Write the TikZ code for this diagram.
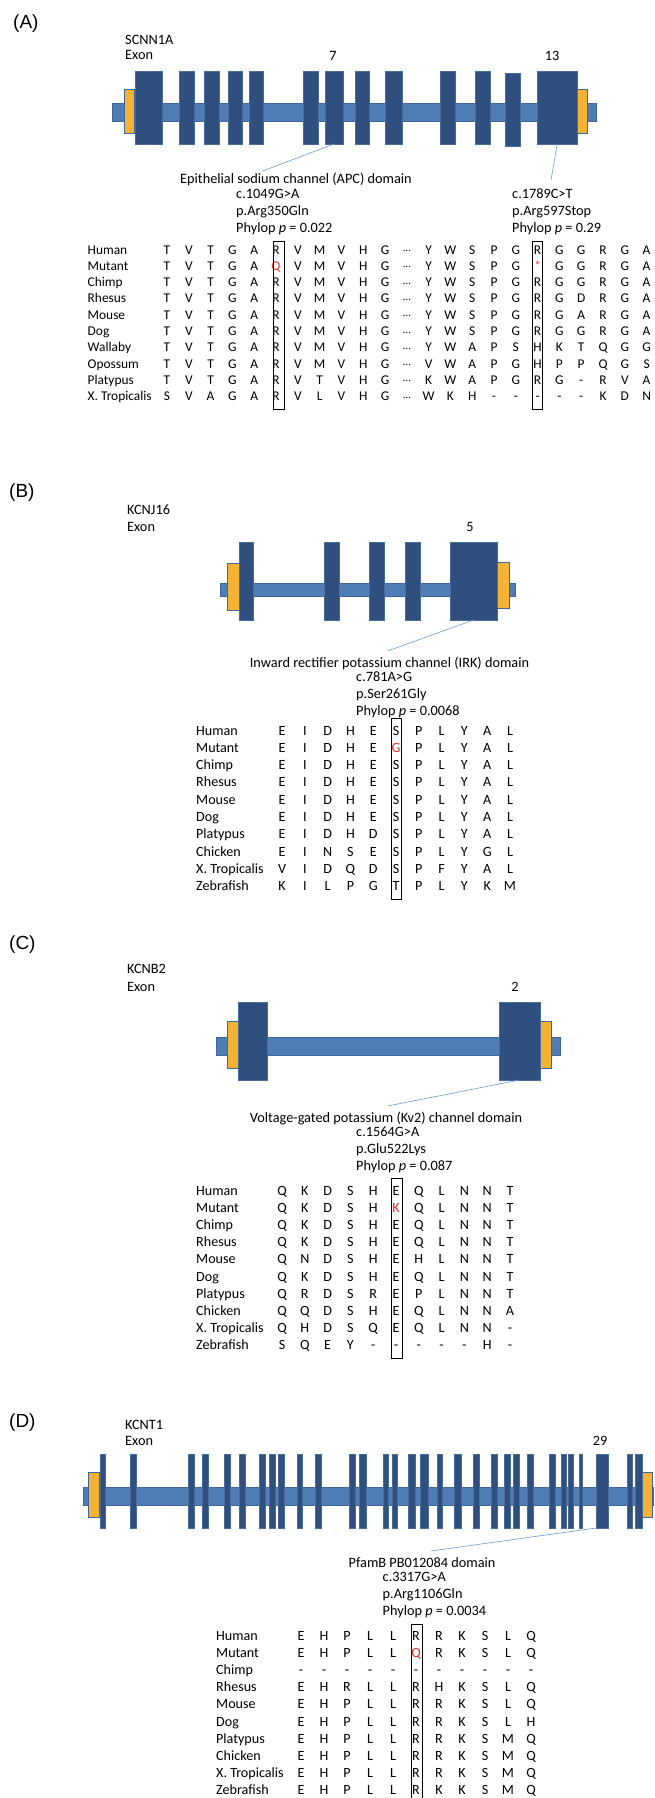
\documentclass[tikz,border=0pt]{standalone}
\usepackage{fontspec}
\setmainfont{Carlito}
\newfontfamily\panelfont{Liberation Sans}

\definecolor{exonblue}{HTML}{2F4F7E}
\definecolor{exonline}{HTML}{4A6C9B}
\definecolor{intronblue}{HTML}{4F7DB5}
\definecolor{intronline}{HTML}{3E6699}
\definecolor{utryellow}{HTML}{F5B335}
\definecolor{leaderblue}{HTML}{6F9AD0}
\definecolor{mutred}{HTML}{E8312A}

\newcommand\annotsize{\fontsize{14.3}{17}\selectfont}
\newcommand\alnsmall{\fontsize{13.4}{16}\selectfont}
\newcommand\alnlarge{\fontsize{14.1}{17}\selectfont}
\newcommand\gapdots{\raisebox{2.5pt}{\fontsize{11}{12}\selectfont …}}

\begin{document}
\begin{tikzpicture}[x=1pt,y=-1pt,
    exon/.style={draw=exonline,fill=exonblue,line width=0.7pt,
      inner sep=0pt,outer sep=0pt,anchor=north west},
    intron/.style={draw=intronline,fill=intronblue,line width=0.7pt},
    utr/.style={draw=intronline,fill=utryellow,line width=0.8pt},
    leader/.style={leaderblue,line width=0.6pt},
    hlbox/.style={draw=black,line width=0.9pt},
    panel/.style={font=\panelfont\fontsize{19}{22}\selectfont,inner sep=0pt,anchor=base west},
    annot/.style={font=\annotsize,inner sep=0pt,anchor=base west},
    domtext/.style={font=\annotsize,inner sep=0pt,anchor=base},
    species/.style={inner sep=0pt,anchor=base west},
    aa/.style={inner sep=0pt,anchor=base}]
\fill[white] (0,0) rectangle (654,1798);
\useasboundingbox (0,0) rectangle (654,1798);

% ---------------- (A) SCNN1A
\node[panel] (pA) at (13,29) {(A)};
\node[annot] (geneA) at (125,45) {SCNN1A};
\node[annot] (exonA) at (125,60) {Exon};
\draw[intron] (112,103) rectangle (596,121);
\draw[utr] (124,89) rectangle (134.5,133);
\draw[utr] (577,89) rectangle (587.5,133);
\foreach \l/\r/\t [count=\n] in {135/162/71,179/194/71,204/219/71,228/242/71,
    249/263/71,303/318/71,325/343/71,355/369/71,385/402/71,440/455/71,
    475/490/71,505/520/73,537.5/577/71}
  \node[exon,minimum width=\r-\l,minimum height=73] (a\n) at (\l,\t) {};
\node[domtext] (numA7) at (333,61) {7};
\node[domtext] (numA13) at (552,61) {13};
\coordinate (leadA7) at (262.5,171);
\coordinate (leadA13) at (551,180);
\draw[leader] (a7.south) -- (leadA7);
\draw[leader] (a13.south) -- (leadA13);
\node[domtext] (domA) at (296,184) {Epithelial sodium channel (APC) domain};
\node[annot] (cdnaA1) at (236,198) {c.1049G>A};
\node[annot] (protA1) at (236,215) {p.Arg350Gln};
\node[annot] (phyA1) at (236,232) {Phylop \textit{p} = 0.022};
\node[annot] (cdnaA2) at (512,198) {c.1789C>T};
\node[annot] (protA2) at (512,215) {p.Arg597Stop};
\node[annot] (phyA2) at (512,232) {Phylop \textit{p} = 0.29};
\foreach \sp/\seq [count=\r] in {
    Human/{T,V,T,G,A,R,V,M,V,H,G,\gapdots,Y,W,S,P,G,R,G,G,R,G,A},
    Mutant/{T,V,T,G,A,\textcolor{mutred}{Q},V,M,V,H,G,\gapdots,Y,W,S,P,G,\textcolor{mutred}{*},G,G,R,G,A},
    Chimp/{T,V,T,G,A,R,V,M,V,H,G,\gapdots,Y,W,S,P,G,R,G,G,R,G,A},
    Rhesus/{T,V,T,G,A,R,V,M,V,H,G,\gapdots,Y,W,S,P,G,R,G,D,R,G,A},
    Mouse/{T,V,T,G,A,R,V,M,V,H,G,\gapdots,Y,W,S,P,G,R,G,A,R,G,A},
    Dog/{T,V,T,G,A,R,V,M,V,H,G,\gapdots,Y,W,S,P,G,R,G,G,R,G,A},
    Wallaby/{T,V,T,G,A,R,V,M,V,H,G,\gapdots,Y,W,A,P,S,H,K,T,Q,G,G},
    Opossum/{T,V,T,G,A,R,V,M,V,H,G,\gapdots,V,W,A,P,G,H,P,P,Q,G,S},
    Platypus/{T,V,T,G,A,R,V,T,V,H,G,\gapdots,K,W,A,P,G,R,G,-,R,V,A},
    X. Tropicalis/{S,V,A,G,A,R,V,L,V,H,G,\gapdots,W,K,H,-,-,-,-,-,K,D,N}}{
  \node[species,font=\alnsmall] (spA\r) at (87.5,{254+16.3*(\r-1)}) {\sp};
  \foreach \ch [count=\c] in \seq
    \node[aa,font=\alnsmall] (alA-\r-\c) at ({167+21.8*(\c-1)},{254+16.3*(\r-1)}) {\ch};
}
\draw[hlbox] (273,241) rectangle (284,409);
\draw[hlbox] (532,241) rectangle (542.5,409);

% ---------------- (B) KCNJ16
\node[panel] (pB) at (9,497) {(B)};
\node[annot] (geneB) at (127,514) {KCNJ16};
\node[annot] (exonB) at (127,531) {Exon};
\draw[intron] (220,583) rectangle (515,596);
\draw[utr] (227.5,563) rectangle (239,610);
\draw[utr] (497,562) rectangle (509,608);
\foreach \l/\r [count=\n] in {239/253,324/339,369/384,405/420,450/497}
  \node[exon,minimum width=\r-\l,minimum height=78] (b\n) at (\l,542) {};
\node[domtext] (numB5) at (470,531) {5};
\coordinate (leadB5) at (387.5,651);
\draw[leader] (b5.south) -- (leadB5);
\node[domtext] (domB) at (389.5,667) {Inward rectifier potassium channel (IRK) domain};
\node[annot] (cdnaB) at (356,681) {c.781A>G};
\node[annot] (protB) at (356,698) {p.Ser261Gly};
\node[annot] (phyB) at (356,715) {Phylop \textit{p} = 0.0068};
\foreach \sp/\seq [count=\r] in {
    Human/{E,I,D,H,E,S,P,L,Y,A,L},
    Mutant/{E,I,D,H,E,\textcolor{mutred}{G},P,L,Y,A,L},
    Chimp/{E,I,D,H,E,S,P,L,Y,A,L},
    Rhesus/{E,I,D,H,E,S,P,L,Y,A,L},
    Mouse/{E,I,D,H,E,S,P,L,Y,A,L},
    Dog/{E,I,D,H,E,S,P,L,Y,A,L},
    Platypus/{E,I,D,H,D,S,P,L,Y,A,L},
    Chicken/{E,I,N,S,E,S,P,L,Y,G,L},
    X. Tropicalis/{V,I,D,Q,D,S,P,F,Y,A,L},
    Zebrafish/{K,I,L,P,G,T,P,L,Y,K,M}}{
  \node[species,font=\alnlarge] (spB\r) at (196,{735+17.3*(\r-1)}) {\sp};
  \foreach \ch [count=\c] in \seq
    \node[aa,font=\alnlarge] (alB-\r-\c) at ({282+22.8*(\c-1)},{735+17.3*(\r-1)}) {\ch};
}
\draw[hlbox] (391,718) rectangle (401,899);

% ---------------- (C) KCNB2
\node[panel] (pC) at (9,949) {(C)};
\node[annot] (geneC) at (127,973) {KCNB2};
\node[annot] (exonC) at (127,991) {Exon};
\draw[intron] (216,1037) rectangle (560,1055);
\draw[utr] (227,1021) rectangle (238,1068);
\draw[utr] (540,1021) rectangle (551,1068);
\foreach \l/\r [count=\n] in {238/267.5,499/540}
  \node[exon,minimum width=\r-\l,minimum height=78] (c\n) at (\l,1002) {};
\node[domtext] (numC2) at (515,991) {2};
\coordinate (leadC2) at (387.5,1106);
\draw[leader] (c2.south) -- (leadC2);
\node[domtext] (domC) at (386,1122) {Voltage-gated potassium (Kv2) channel domain};
\node[annot] (cdnaC) at (356,1136) {c.1564G>A};
\node[annot] (protC) at (356,1153) {p.Glu522Lys};
\node[annot] (phyC) at (356,1170) {Phylop \textit{p} = 0.087};
\foreach \sp/\seq [count=\r] in {
    Human/{Q,K,D,S,H,E,Q,L,N,N,T},
    Mutant/{Q,K,D,S,H,\textcolor{mutred}{K},Q,L,N,N,T},
    Chimp/{Q,K,D,S,H,E,Q,L,N,N,T},
    Rhesus/{Q,K,D,S,H,E,Q,L,N,N,T},
    Mouse/{Q,N,D,S,H,E,H,L,N,N,T},
    Dog/{Q,K,D,S,H,E,Q,L,N,N,T},
    Platypus/{Q,R,D,S,R,E,P,L,N,N,T},
    Chicken/{Q,Q,D,S,H,E,Q,L,N,N,A},
    X. Tropicalis/{Q,H,D,S,Q,E,Q,L,N,N,-},
    Zebrafish/{S,Q,E,Y,-,-,-,-,-,H,-}}{
  \node[species,font=\alnlarge] (spC\r) at (196,{1195+17.2*(\r-1)}) {\sp};
  \foreach \ch [count=\c] in \seq
    \node[aa,font=\alnlarge] (alC-\r-\c) at ({282+22.8*(\c-1)},{1195+17.2*(\r-1)}) {\ch};
}
\draw[hlbox] (391,1178) rectangle (402,1358);

% ---------------- (D) KCNT1
\node[panel] (pD) at (9,1427) {(D)};
\node[annot] (geneD) at (125,1429) {KCNT1};
\node[annot] (exonD) at (125,1445) {Exon};
\draw[intron] (83,1487) rectangle (653,1505);
\draw[utr] (88,1472) rectangle (99,1517);
\draw[utr] (642,1472) rectangle (652,1517);
\foreach \l/\r [count=\n] in {100/105.7,130/136,188/194,202/208,224/230,239/245,
    259/265,269/275,278/284,297/302,315/321,349/355,359/366,383/388,392/397,
    408/415,420/428,437/442,454/461,473/479,491/497,504/510,513/519,527/533,
    549/555,561/566,568/573,579/582,596/608,627/632,635/642}
  \node[exon,minimum width=\r-\l,minimum height=74] (d\n) at (\l,1454) {};
\node[domtext] (numD29) at (600,1445) {29};
\coordinate (leadD29) at (431,1551);
\draw[leader] (d29.south west) -- (leadD29);
\node[domtext] (domD) at (422,1567) {PfamB PB012084 domain};
\node[annot] (cdnaD) at (382.5,1581) {c.3317G>A};
\node[annot] (protD) at (382.5,1598) {p.Arg1106Gln};
\node[annot] (phyD) at (382.5,1615) {Phylop \textit{p} = 0.0034};
\foreach \sp/\seq [count=\r] in {
    Human/{E,H,P,L,L,R,R,K,S,L,Q},
    Mutant/{E,H,P,L,L,\textcolor{mutred}{Q},R,K,S,L,Q},
    Chimp/{-,-,-,-,-,-,-,-,-,-,-},
    Rhesus/{E,H,R,L,L,R,H,K,S,L,Q},
    Mouse/{E,H,P,L,L,R,R,K,S,L,Q},
    Dog/{E,H,P,L,L,R,R,K,S,L,H},
    Platypus/{E,H,P,L,L,R,R,K,S,M,Q},
    Chicken/{E,H,P,L,L,R,R,K,S,M,Q},
    X. Tropicalis/{E,H,P,L,L,R,R,K,S,M,Q},
    Zebrafish/{E,H,P,L,L,R,K,K,S,M,Q}}{
  \node[species,font=\alnlarge] (spD\r) at (216,{1640+17.2*(\r-1)}) {\sp};
  \foreach \ch [count=\c] in \seq
    \node[aa,font=\alnlarge] (alD-\r-\c) at ({301+23*(\c-1)},{1640+17.2*(\r-1)}) {\ch};
}
\draw[hlbox] (411,1624) rectangle (422,1798);
\end{tikzpicture}
\end{document}
